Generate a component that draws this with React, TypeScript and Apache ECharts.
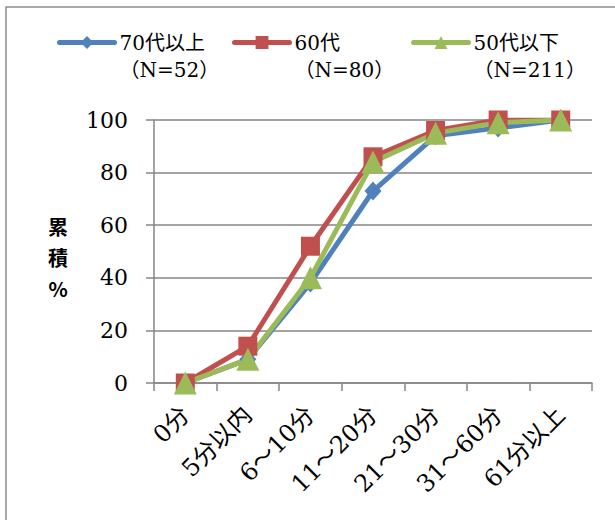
import React, { useEffect, useRef } from "react";
import * as echarts from "echarts";

const categories = ["0分", "5分以内", "6～10分", "11～20分", "21～30分", "31～60分", "61分以上"];
const seriesNames = ["70代以上", "60代", "50代以下"];
const sampleSizes = ["（N=52）", "（N=80）", "（N=211）"];
const blueValues = [0, 9, 38, 73, 94, 97, 100];
const redValues = [0, 14, 52, 86, 96, 100, 100];
const greenValues = [0, 9, 40, 84, 95, 99, 100];
const yTicks = [0, 20, 40, 60, 80, 100];

const colors = ["#4F81BD", "#C0504D", "#9BBB59"];
const symbols = ["diamond", "rect", "triangle"];
const symbolSizes = [[17, 19], 19, 23];
const legendLefts = [57, 232, 411];

const serif = "'DejaVu Serif', 'Noto Sans CJK JP', serif";
const sans = "'Noto Sans CJK JP', sans-serif";

export default function App() {
  const ref = useRef<HTMLDivElement>(null);
  useEffect(() => {
    if (!ref.current) return;
    const chart = echarts.init(ref.current, undefined, { renderer: "svg" });
    const values = [blueValues, redValues, greenValues];
    const option: any = {
      animation: false,
      backgroundColor: "#ffffff",
      graphic: [
        {
          type: "rect",
          shape: { x: 6, y: 7, width: 700, height: 600 },
          style: { fill: "none", stroke: "#8c8c8c", lineWidth: 1.5 },
        },
      ],
      legend: seriesNames.map((n, i) => ({
        data: [n],
        left: legendLefts[i],
        top: 2,
        padding: 0,
        itemWidth: 55,
        itemHeight: 16,
        itemGap: 5,
        lineStyle: { width: 5, cap: "round" },
        formatter: (name: string) => ` \n${name}\n${sampleSizes[seriesNames.indexOf(name)]}`,
        textStyle: {
          fontFamily: serif,
          fontSize: 20,
          color: "#000",
          lineHeight: 27,
        },
      })),
      grid: { left: 154, right: 23, top: 120, bottom: 137, containLabel: false },
      xAxis: {
        type: "category",
        data: categories,
        boundaryGap: true,
        axisLine: { lineStyle: { color: "#868686", width: 1.5 } },
        axisTick: { show: true, length: 8, lineStyle: { color: "#868686", width: 1.5 } },
        axisLabel: {
          interval: 0,
          rotate: 45,
          margin: 28,
          color: "#000",
          fontFamily: serif,
          fontSize: 24,
        },
      },
      yAxis: {
        type: "value",
        min: 0,
        max: 100,
        interval: 20,
        name: "{s| }\n{a|累}\n{a|積}\n{a|%}",
        nameLocation: "middle",
        nameRotate: 0,
        nameGap: 96,
        nameTextStyle: {
          fontFamily: sans,
          fontWeight: "bold",
          fontSize: 20,
          color: "#000",
          align: "center",
          verticalAlign: "middle",
          rich: {
            s: { fontSize: 10, lineHeight: 12, fontFamily: sans },
            a: { fontSize: 20, lineHeight: 31, fontWeight: "bold", fontFamily: sans, color: "#000" },
          },
        },
        axisLine: { show: true, lineStyle: { color: "#868686", width: 1.5 } },
        axisTick: { show: true, length: 8, lineStyle: { color: "#868686", width: 1.5 } },
        splitLine: { show: true, lineStyle: { color: "#868686", width: 1.5 } },
        axisLabel: {
          margin: 26,
          color: "#000",
          fontFamily: serif,
          fontSize: 22,
          formatter: (v: number) => (yTicks.includes(v) ? String(v) : ""),
        },
      },
      series: seriesNames.map((n, i) => ({
        name: n,
        type: "line",
        data: values[i],
        symbol: symbols[i],
        symbolSize: symbolSizes[i],
        showAllSymbol: true,
        lineStyle: { color: colors[i], width: 5 },
        itemStyle: { color: colors[i], borderWidth: 0 },
      })),
    };
    chart.setOption(option);
    return () => chart.dispose();
  }, []);
  return (
    <div
      ref={ref}
      style={{ position: "absolute", left: 0, top: 0, width: 615, height: 520 }}
    />
  );
}
